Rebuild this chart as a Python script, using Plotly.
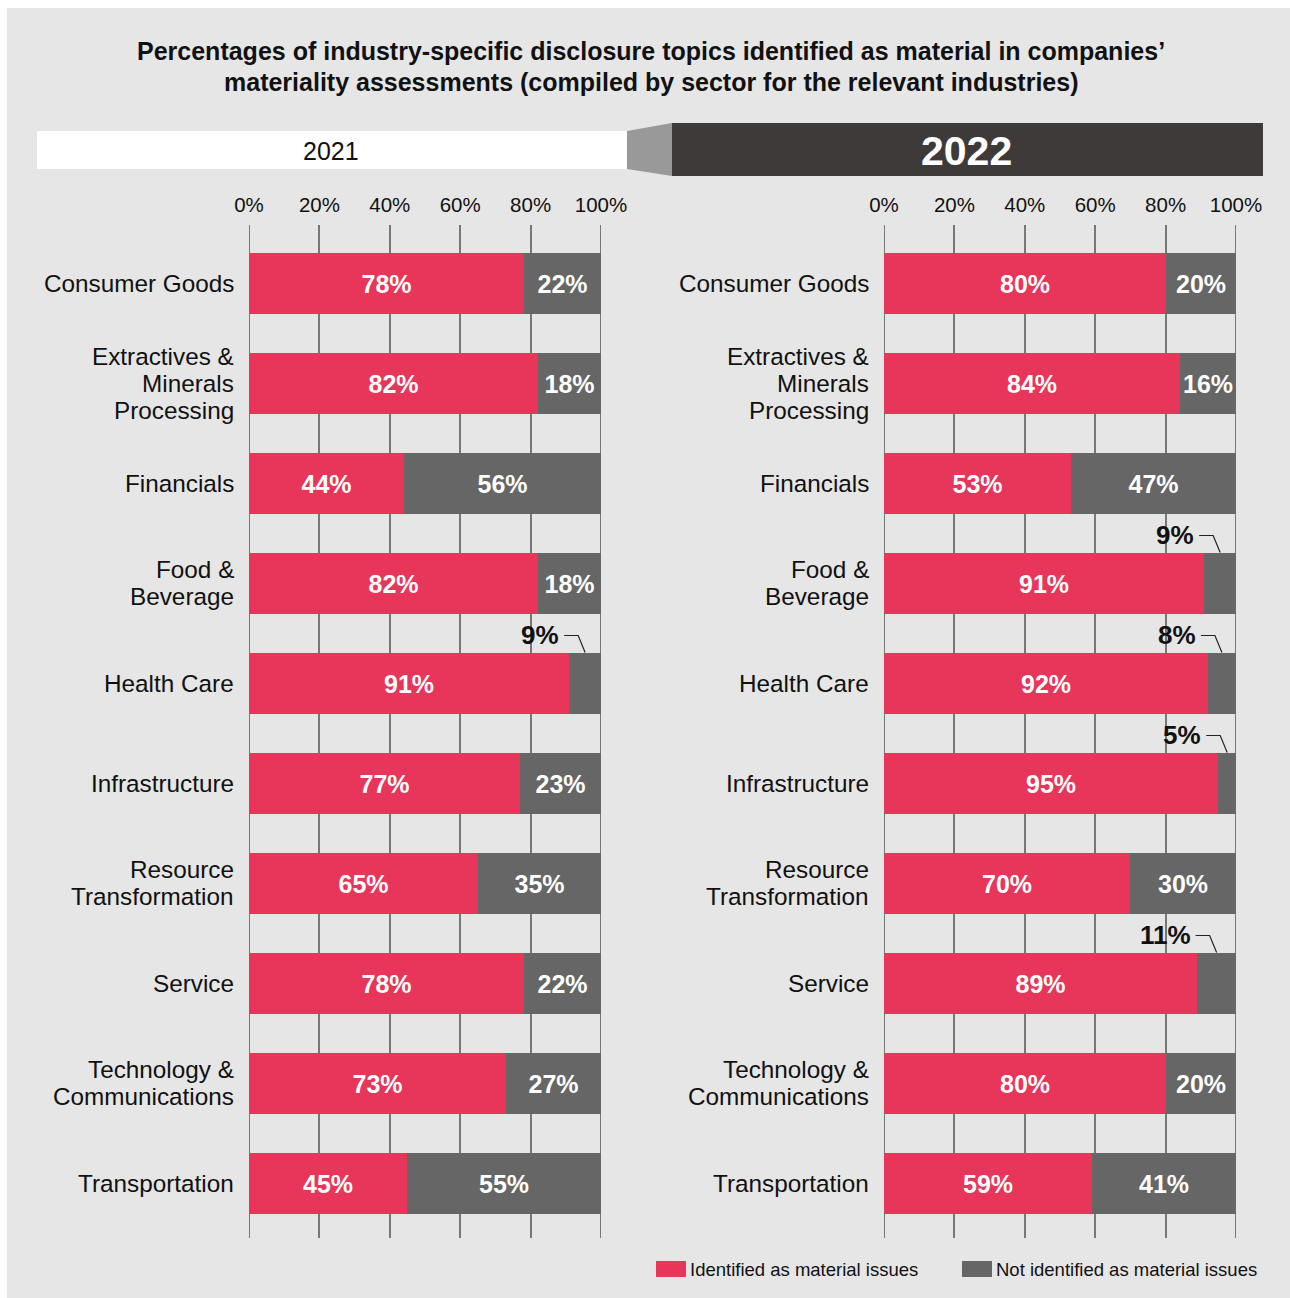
import plotly.graph_objects as go

# ---------------- data ----------------
categories = ["Consumer Goods", "Extractives & Minerals Processing", "Financials",
              "Food & Beverage", "Health Care", "Infrastructure",
              "Resource Transformation", "Service", "Technology & Communications",
              "Transportation"]
category_lines = [["Consumer Goods"], ["Extractives &", "Minerals", "Processing"], ["Financials"],
                  ["Food &", "Beverage"], ["Health Care"], ["Infrastructure"],
                  ["Resource", "Transformation"], ["Service"], ["Technology &", "Communications"],
                  ["Transportation"]]
material_2021 = [78, 82, 44, 82, 91, 77, 65, 78, 73, 45]
not_material_2021 = [22, 18, 56, 18, 9, 23, 35, 22, 27, 55]
material_2022 = [80, 84, 53, 91, 92, 95, 70, 89, 80, 59]
not_material_2022 = [20, 16, 47, 9, 8, 5, 30, 11, 20, 41]
tick_values = [0, 20, 40, 60, 80, 100]
tick_labels = ["0%", "20%", "40%", "60%", "80%", "100%"]
years = ["2021", "2022"]
series_names = ["Identified as material issues", "Not identified as material issues"]
title_lines = ["Percentages of industry-specific disclosure topics identified as material in companies\u2019",
               "materiality assessments (compiled by sector for the relevant industries)"]

# ---------------- style ----------------
W, H = 1290, 1298
FONT = "Liberation Sans, Arial, Helvetica, sans-serif"
RED = "#e8355a"
GREY = "#666666"
BG = "#e6e6e6"
GRID = "#777777"
CALLOUT_MAX = 11


def px(x):
    return x / W


def py(y):
    return 1 - y / H


fig = go.Figure()

panels = [("x", "y", material_2021, not_material_2021),
          ("x2", "y", material_2022, not_material_2022)]

for k, (xa, ya, mat, nm) in enumerate(panels):
    fig.add_trace(go.Bar(
        y=categories, x=mat, orientation="h", xaxis=xa, yaxis=ya,
        name=series_names[0], marker=dict(color=RED, line=dict(width=0)),
        width=0.61, text=[f"{v}%" for v in mat], textposition="inside",
        insidetextanchor="middle", constraintext="none", textangle=0,
        textfont=dict(family=FONT, size=25, color="white", weight="bold"),
        showlegend=False, hoverinfo="skip"))
    fig.add_trace(go.Bar(
        y=categories, x=nm, orientation="h", xaxis=xa, yaxis=ya,
        name=series_names[1], marker=dict(color=GREY, line=dict(width=0)),
        width=0.61, text=[f"{v}%" if v > CALLOUT_MAX else "" for v in nm],
        textposition="inside", insidetextanchor="middle", constraintext="none", textangle=0,
        textfont=dict(family=FONT, size=25, color="white", weight="bold"),
        showlegend=False, hoverinfo="skip"))

shapes = []
annotations = []

# outer background
shapes.append(dict(type="rect", xref="paper", yref="paper", x0=px(7), x1=px(1290),
                   y0=py(1298), y1=py(8), fillcolor=BG, line=dict(width=0), layer="below"))

# edge gridlines (0% and 100%) that plotly omits at the range limits
for xa in ("x", "x2"):
    for v in (tick_values[0], tick_values[-1]):
        shapes.append(dict(type="line", xref=xa, yref="paper", x0=v, x1=v,
                           y0=py(1238), y1=py(225), line=dict(color=GRID, width=2), layer="below"))

# header bars
shapes.append(dict(type="rect", xref="paper", yref="paper", x0=px(37), x1=px(627),
                   y0=py(169), y1=py(131), fillcolor="white", line=dict(width=0), layer="below"))
shapes.append(dict(type="path", xref="paper", yref="paper",
                   path=f"M {px(627)},{py(131)} L {px(672)},{py(123)} L {px(672)},{py(176)} L {px(627)},{py(169)} Z",
                   fillcolor="#999999", line=dict(width=0), layer="below"))
shapes.append(dict(type="rect", xref="paper", yref="paper", x0=px(672), x1=px(1263),
                   y0=py(176), y1=py(123), fillcolor="#3e3a39", line=dict(width=0), layer="below"))
annotations.append(dict(xref="paper", yref="paper", x=px(331), y=py(151), text=years[0],
                        showarrow=False, xanchor="center", yanchor="middle",
                        font=dict(family=FONT, size=25, color="#111111")))
annotations.append(dict(xref="paper", yref="paper", x=px(967), y=py(151), text=years[1],
                        showarrow=False, xanchor="center", yanchor="middle",
                        font=dict(family=FONT, size=41, color="white", weight="bold")))

# title
for j, line in enumerate(title_lines):
    annotations.append(dict(xref="paper", yref="paper", x=px(651), y=py(51 + 31 * j), text=line,
                            showarrow=False, xanchor="center", yanchor="middle",
                            font=dict(family=FONT, size=25, color="#111111", weight="bold")))

# category labels
for label_x in (233, 868):
    for cat, lines in zip(categories, category_lines):
        n = len(lines)
        for j, line in enumerate(lines):
            annotations.append(dict(xref="paper", yref="y", x=px(label_x), y=cat, text=line,
                                    showarrow=False, xanchor="right", yanchor="middle",
                                    xshift=3, yshift=((n - 1) / 2 - j) * 27,
                                    font=dict(family=FONT, size=24.3, color="#111111")))

# callouts for small values
for xa, ya, mat, nm in panels:
    for i, (cat, m, v) in enumerate(zip(categories, mat, nm)):
        if v <= CALLOUT_MAX:
            cx = m + v / 2
            shapes.append(dict(type="path", xref=xa, yref=ya, xsizemode="pixel", ysizemode="pixel",
                               xanchor=cx, yanchor=i,
                               path="M 0,30.5 L -7,47.5 L -21,47.5",
                               line=dict(color="#222222", width=1.2)))
            annotations.append(dict(xref=xa, yref=ya, x=cx, y=cat, text=f"{v}%",
                                    showarrow=False, xanchor="right", yanchor="middle",
                                    xshift=-24, yshift=48,
                                    font=dict(family=FONT, size=26, color="#111111", weight="bold")))

# manual legend
legend_items = [(656, RED, series_names[0]), (962, GREY, series_names[1])]
for x0, col, name in legend_items:
    shapes.append(dict(type="rect", xref="paper", yref="paper", x0=px(x0), x1=px(x0 + 30),
                       y0=py(1277), y1=py(1261), fillcolor=col, line=dict(width=0)))
    annotations.append(dict(xref="paper", yref="paper", x=px(x0 + 32), y=py(1269), text=name,
                            showarrow=False, xanchor="left", yanchor="middle",
                            font=dict(family=FONT, size=18.5, color="#111111")))

axis_common = dict(range=[0, 100], tickvals=tick_values, ticktext=tick_labels, side="top",
                   showgrid=True, gridcolor=GRID, gridwidth=2, zeroline=False, automargin=False,
                   showline=False, ticks="", fixedrange=True, ticklabelstandoff=8,
                   tickfont=dict(family=FONT, size=20.5, color="#111111"))

fig.update_layout(
    width=W, height=H, autosize=False, margin=dict(l=0, r=0, t=0, b=0, pad=0),
    paper_bgcolor="white", plot_bgcolor="rgba(0,0,0,0)",
    barmode="stack", bargap=0, showlegend=False,
    xaxis=dict(domain=[px(249), px(601)], anchor="y", **axis_common),
    xaxis2=dict(domain=[px(884), px(1236)], anchor="y", **axis_common),
    yaxis=dict(domain=[py(1238), py(225)], anchor="x", type="category", automargin=False,
               categoryorder="array", categoryarray=categories,
               range=[9.55, -0.58], showticklabels=False, showgrid=False,
               zeroline=False, showline=False, ticks="", fixedrange=True),
    shapes=shapes, annotations=annotations,
    font=dict(family=FONT),
)

fig.write_html("out.html", config={"responsive": False, "displayModeBar": False})
